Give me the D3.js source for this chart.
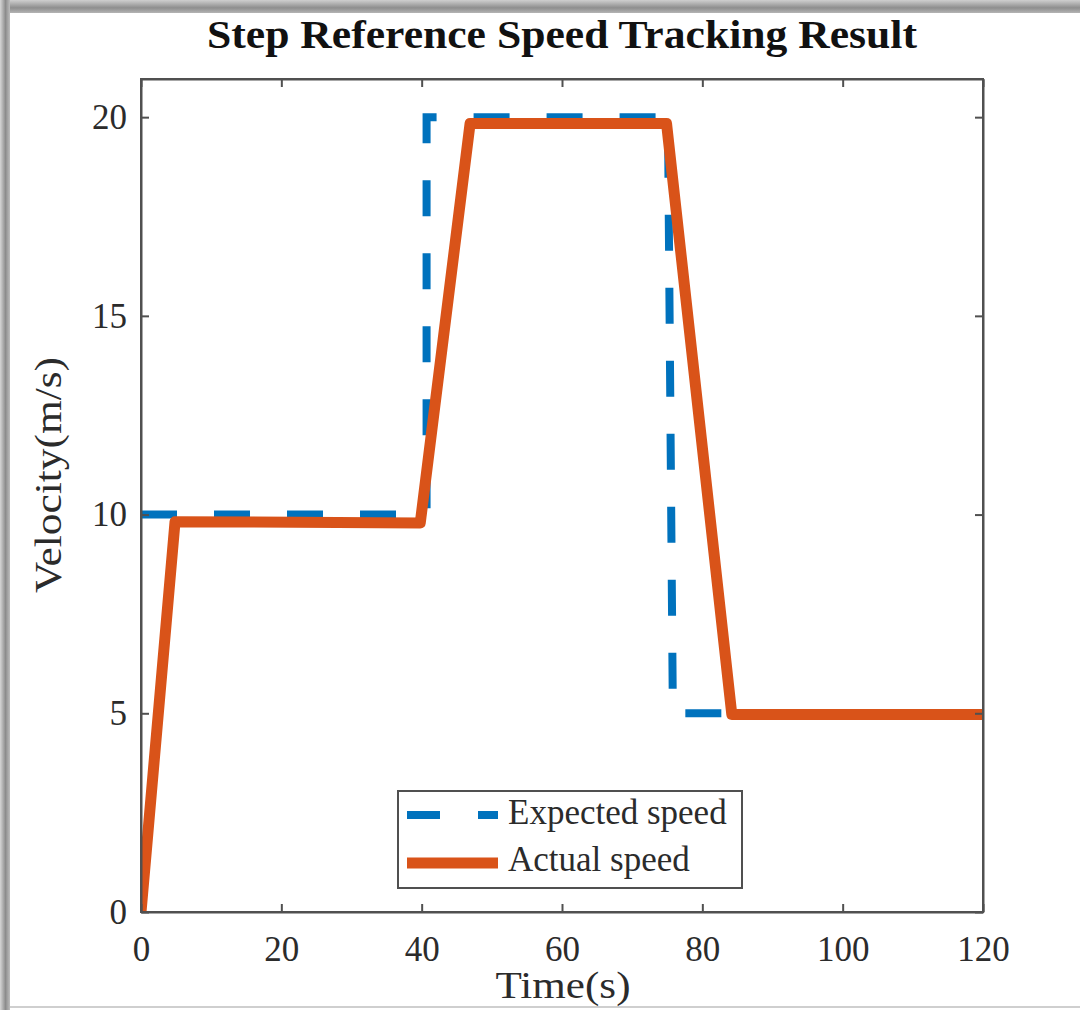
<!DOCTYPE html>
<html>
<head>
<meta charset="utf-8">
<script src="https://cdn.jsdelivr.net/npm/d3@7"></script>
<style>
  body { margin: 0; background: #ffffff; }
  text { font-family: "Liberation Serif", "Times New Roman", serif; fill: #2b2b2b; }
</style>
</head>
<body>
<div id="my_dataviz"></div>
<script>
// values
var expected_time = [0, 40.7, 40.7, 75.1, 75.8, 120];
var expected_speed = [10, 10, 20, 20, 5, 5];
var actual_time = [0, 4.85, 39.8, 46.9, 74.9, 84.2, 120];
var actual_speed = [0, 9.82, 9.79, 19.84, 19.84, 4.97, 4.97];
var x_ticks = [0, 20, 40, 60, 80, 100, 120];
var y_ticks = [0, 5, 10, 15, 20];
var legend_labels = ["Expected speed", "Actual speed"];

var margin = {top: 79, right: 97, bottom: 98, left: 141},
    width = 1080 - margin.left - margin.right,
    height = 1010 - margin.top - margin.bottom;

var blue = "#0072BD", orange = "#D95319", axis_color = "#505050";

var root = d3.select("#my_dataviz")
  .append("svg")
  .attr("width", 1080)
  .attr("height", 1010);

// the grey shadow frame around the exported figure
var defs = root.append("defs");
var gtop = defs.append("linearGradient").attr("id", "gtop")
  .attr("x1", 0).attr("y1", 0).attr("x2", 0).attr("y2", 1);
gtop.append("stop").attr("offset", "0%").attr("stop-color", "#cfcfcf");
gtop.append("stop").attr("offset", "60%").attr("stop-color", "#8e8e8e");
gtop.append("stop").attr("offset", "100%").attr("stop-color", "#b4b4b4");
var gleft = defs.append("linearGradient").attr("id", "gleft")
  .attr("x1", 0).attr("y1", 0).attr("x2", 1).attr("y2", 0);
gleft.append("stop").attr("offset", "0%").attr("stop-color", "#d6d6d6");
gleft.append("stop").attr("offset", "55%").attr("stop-color", "#8c8c8c");
gleft.append("stop").attr("offset", "100%").attr("stop-color", "#bdbdbd");

root.append("rect").attr("x", 0).attr("y", 0).attr("width", 1080).attr("height", 13)
  .attr("fill", "url(#gtop)");
root.append("rect").attr("x", 0).attr("y", 0).attr("width", 10).attr("height", 1010)
  .attr("fill", "url(#gleft)");
root.append("rect").attr("x", 10).attr("y", 1006).attr("width", 1070).attr("height", 2)
  .attr("fill", "#cfcfcf");

var svg = root.append("g")
  .attr("transform", "translate(" + margin.left + "," + margin.top + ")");

// the y axis runs a little above the last tick
var x = d3.scaleLinear().domain([0, 120]).range([0, width]);
var y = d3.scaleLinear().domain([0, 20.96]).range([height, 0]);

// clip the lines to the axes box
defs.append("clipPath").attr("id", "clip")
  .append("rect").attr("x", 0).attr("y", 0).attr("width", width).attr("height", height);

var expected = expected_time.map(function(t, i) { return [t, expected_speed[i]]; });
var actual = actual_time.map(function(t, i) { return [t, actual_speed[i]]; });

var line = d3.line()
  .x(function(d) { return x(d[0]); })
  .y(function(d) { return y(d[1]); });

var lines = svg.append("g").attr("clip-path", "url(#clip)");

lines.append("path")
  .datum(expected)
  .attr("d", line)
  .attr("fill", "none")
  .attr("stroke", blue)
  .attr("stroke-width", 8)
  .attr("stroke-dasharray", "36,37")
  .attr("stroke-linejoin", "miter");

lines.append("path")
  .datum(actual)
  .attr("d", line)
  .attr("fill", "none")
  .attr("stroke", orange)
  .attr("stroke-width", 11)
  .attr("stroke-linejoin", "round");

// axes with ticks inside, box on
var tick_len = 8;
var xAxis = svg.append("g")
  .attr("transform", "translate(0," + height + ")")
  .call(d3.axisBottom(x).tickValues(x_ticks).tickSizeInner(-tick_len).tickSizeOuter(0).tickPadding(24));
var yAxis = svg.append("g")
  .call(d3.axisLeft(y).tickValues(y_ticks).tickSizeInner(-tick_len).tickSizeOuter(0).tickPadding(14));
svg.append("g")
  .call(d3.axisTop(x).tickValues(x_ticks).tickSizeInner(-tick_len).tickSizeOuter(0).tickFormat(""));
svg.append("g")
  .attr("transform", "translate(" + width + ",0)")
  .call(d3.axisRight(y).tickValues(y_ticks).tickSizeInner(-tick_len).tickSizeOuter(0).tickFormat(""));

svg.selectAll(".domain, .tick line")
  .attr("stroke", axis_color)
  .attr("stroke-width", 2);
svg.append("rect")
  .attr("width", width).attr("height", height)
  .attr("fill", "none")
  .attr("stroke", axis_color)
  .attr("stroke-width", 2);

svg.selectAll(".tick text")
  .style("font-family", "Liberation Serif")
  .style("font-size", "35px")
  .attr("fill", "#2b2b2b");

// title and axis labels
svg.append("text")
  .attr("x", width / 2)
  .attr("y", -31)
  .attr("text-anchor", "middle")
  .attr("textLength", 710)
  .attr("lengthAdjust", "spacingAndGlyphs")
  .style("font-size", "40px")
  .style("font-weight", "bold")
  .style("fill", "#111")
  .text("Step Reference Speed Tracking Result");

svg.append("text")
  .attr("x", width / 2 + 1)
  .attr("y", height + 86)
  .attr("text-anchor", "middle")
  .attr("textLength", 135)
  .attr("lengthAdjust", "spacingAndGlyphs")
  .style("font-size", "37px")
  .text("Time(s)");

svg.append("text")
  .attr("transform", "translate(-80," + (475 - margin.top) + ") rotate(-90)")
  .attr("text-anchor", "middle")
  .attr("textLength", 236)
  .attr("lengthAdjust", "spacingAndGlyphs")
  .style("font-size", "37px")
  .text("Velocity(m/s)");

// legend
var lx = 398 - margin.left, ly = 791 - margin.top;
svg.append("rect")
  .attr("x", lx).attr("y", ly)
  .attr("width", 344).attr("height", 97)
  .attr("fill", "#ffffff")
  .attr("stroke", axis_color)
  .attr("stroke-width", 2);

var legend_styles = [
  {color: blue, w: 8, dash: "33,38"},
  {color: orange, w: 11, dash: null}
];
svg.selectAll("mylegendlines")
  .data(legend_labels)
  .join("line")
  .attr("x1", lx + 9)
  .attr("x2", lx + 100)
  .attr("y1", function(d, i) { return ly + 24 + i * 48; })
  .attr("y2", function(d, i) { return ly + 24 + i * 48; })
  .attr("stroke", function(d, i) { return legend_styles[i].color; })
  .attr("stroke-width", function(d, i) { return legend_styles[i].w; })
  .attr("stroke-dasharray", function(d, i) { return legend_styles[i].dash; });

svg.selectAll("mylegendlabels")
  .data(legend_labels)
  .join("text")
  .attr("x", lx + 110)
  .attr("y", function(d, i) { return ly + 33 + i * 47; })
  .style("font-size", "35px")
  .text(function(d) { return d; });
</script>
</body>
</html>
